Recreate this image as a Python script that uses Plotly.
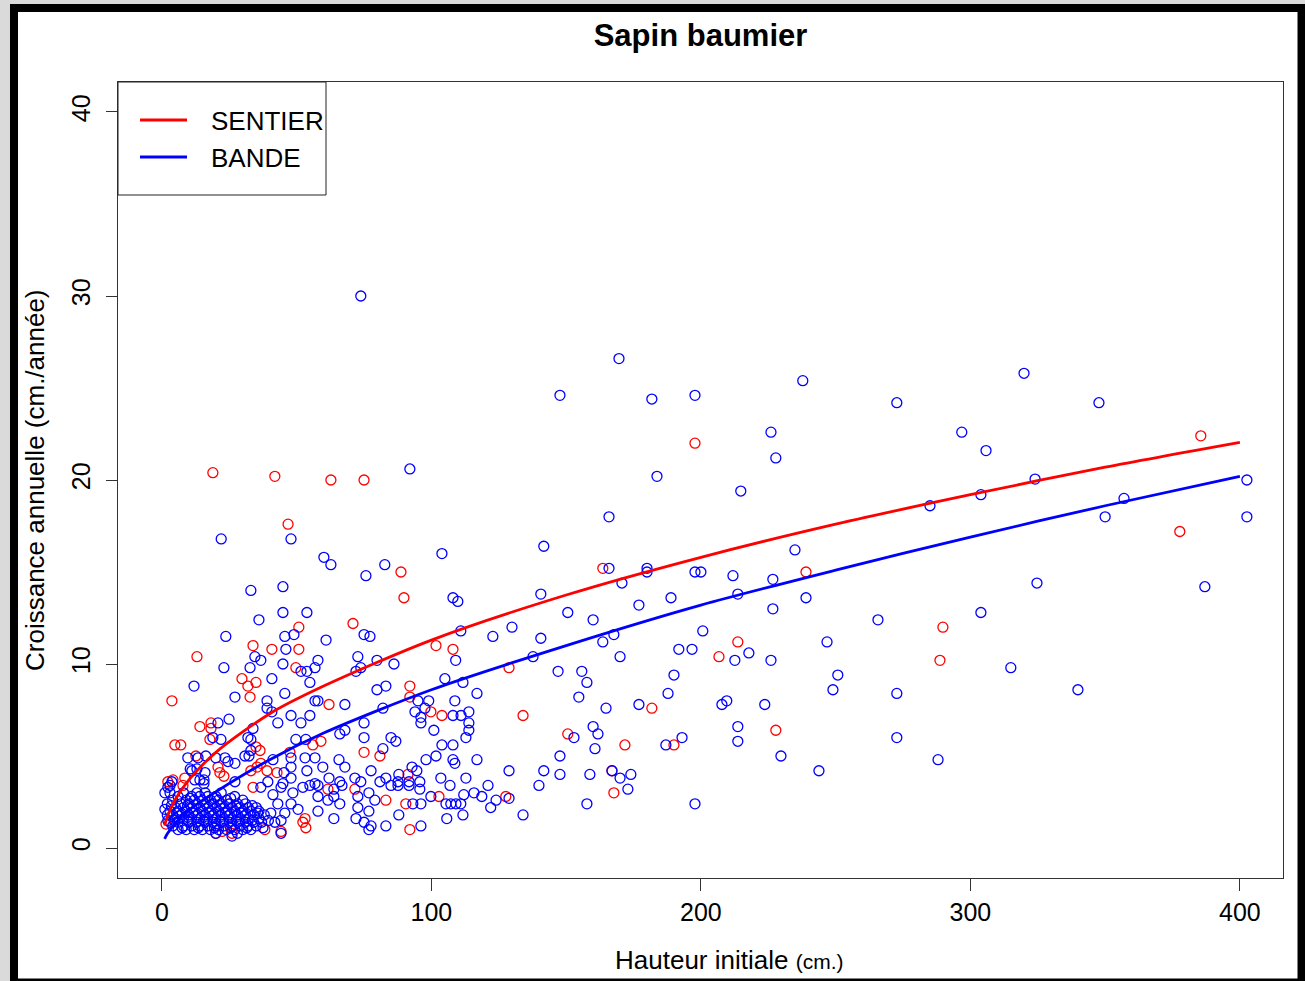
import plotly.graph_objects as go

# ---------------- data ----------------
sentier_pts = [
    (385.5, 22.4), (377.7, 17.2), (289.8, 12.0), (288.7, 10.2),
    (197.8, 22.0), (163.6, 15.2), (239.0, 15.0), (213.7, 11.2), (206.7, 10.4), (134.0, 7.2),
    (181.8, 7.6), (150.6, 6.2), (227.8, 6.4), (171.8, 5.6), (190.0, 5.6), (167.0, 4.2), (167.7, 3.0),
    (18.9, 20.4), (41.9, 20.2), (62.7, 20.0), (75.0, 20.0), (46.8, 17.6), (88.7, 15.0), (89.8, 13.6),
    (50.8, 12.0), (70.9, 12.2),
    (101.7, 11.0), (108.0, 10.8), (128.8, 9.8), (92.0, 8.8), (92.0, 8.2), (62.0, 7.8), (99.8, 7.4),
    (103.9, 7.2), (59.0, 5.8), (75.0, 5.2), (80.9, 5.0), (91.3, 4.0), (61.6, 3.2), (71.6, 3.2),
    (83.1, 2.6), (90.5, 2.4), (102.8, 2.8), (127.6, 2.8), (92.0, 1.0),
    (13.0, 10.4), (33.8, 11.0), (40.8, 10.8), (50.8, 10.8), (49.7, 9.8), (29.7, 9.2), (31.9, 8.8),
    (34.9, 9.0), (32.7, 8.2), (3.7, 8.0), (14.1, 6.6), (18.2, 6.8), (18.2, 6.5), (17.8, 5.9),
    (4.8, 5.6), (7.0, 5.6), (34.9, 5.5), (36.4, 5.3), (56.0, 5.6), (12.6, 5.0), (36.7, 4.6),
    (33.0, 4.2), (42.7, 4.1), (20.8, 4.4), (21.5, 4.1), (4.1, 3.7), (8.5, 3.8), (23.0, 3.9),
    (33.8, 3.3), (53.1, 1.6), (52.3, 1.4), (53.4, 1.1), (44.2, 0.9), (47.5, 5.2),
    (2.2, 3.6), (7.8, 3.4), (25.2, 2.4), (22.3, 0.9), (38.2, 1.0), (35.3, 4.4), (39.0, 4.2),
    (1.5, 1.3), (20.0, 0.8), (26.0, 0.8),
]

bande_pts = [
    (319.9, 25.8), (347.7, 24.2), (296.8, 22.6), (305.8, 21.6), (324.0, 20.05), (285.0, 18.6),
    (303.9, 19.2), (357.0, 19.0), (350.0, 18.0), (402.6, 20.0), (402.6, 18.0), (324.7, 14.4),
    (387.0, 14.2), (303.9, 12.8), (315.0, 9.8), (339.9, 8.6), (288.0, 4.8),
    (147.7, 24.6), (169.6, 26.6), (181.8, 24.4), (197.8, 24.6), (237.8, 25.4), (272.7, 24.2),
    (226.0, 22.6), (227.8, 21.2), (183.7, 20.2), (214.8, 19.4), (165.9, 18.0), (141.7, 16.4),
    (234.9, 16.2), (165.9, 15.2), (180.0, 15.2), (180.0, 15.0), (197.8, 15.0), (200.0, 15.0),
    (211.9, 14.8), (226.7, 14.6), (170.7, 14.4), (140.6, 13.8), (213.7, 13.8), (188.9, 13.6),
    (239.0, 13.6), (150.6, 12.8), (177.0, 13.2), (160.0, 12.4), (226.7, 13.0), (265.7, 12.4),
    (140.6, 11.4), (167.7, 11.6), (163.6, 11.2), (200.7, 11.8), (246.8, 11.2), (137.7, 10.4),
    (170.0, 10.4), (191.8, 10.8), (196.7, 10.8), (212.6, 10.2), (217.8, 10.6), (226.0, 10.2),
    (147.0, 9.6), (155.8, 9.6), (157.7, 9.0), (190.0, 9.4), (250.8, 9.4), (249.0, 8.6),
    (272.7, 8.4), (154.7, 8.2), (187.8, 8.4), (164.8, 7.6), (177.0, 7.8), (207.8, 7.8),
    (209.6, 8.0), (223.7, 7.8), (152.9, 6.0), (160.0, 6.6), (161.8, 6.2), (213.7, 6.6),
    (213.7, 5.8), (272.7, 6.0), (160.7, 5.4), (187.0, 5.6), (193.0, 6.0), (147.7, 5.0),
    (229.7, 5.0), (141.7, 4.2), (147.7, 4.0), (158.8, 4.0), (167.0, 4.2), (170.0, 3.8),
    (174.0, 4.0), (243.8, 4.2), (139.9, 3.4), (172.9, 3.2), (157.7, 2.4), (197.8, 2.4), (134.0, 1.8),
    (73.8, 30.0), (92.0, 20.6), (22.0, 16.8), (47.9, 16.8), (103.9, 16.0), (60.1, 15.8),
    (62.7, 15.4), (82.7, 15.4), (75.7, 14.8), (33.0, 14.0), (44.9, 14.2), (108.0, 13.6),
    (109.8, 13.4), (36.0, 12.4), (44.9, 12.8), (53.8, 12.8), (110.9, 11.8), (122.8, 11.5),
    (129.9, 12.0), (23.7, 11.5), (45.6, 11.5), (49.0, 11.6), (60.9, 11.3), (75.0, 11.6), (77.2, 11.5),
    (72.7, 10.4), (79.8, 10.2), (86.1, 10.0), (109.0, 10.2), (72.0, 9.6), (73.8, 9.8), (57.9, 10.2),
    (79.8, 8.6), (83.1, 8.8), (105.0, 9.2), (111.7, 9.0), (116.9, 8.4), (57.9, 8.0), (67.9, 7.8),
    (82.0, 7.6), (95.0, 8.0), (99.0, 8.0), (93.9, 7.4), (97.6, 7.6), (96.1, 7.1), (96.1, 6.8),
    (108.7, 8.0), (108.0, 7.2), (111.0, 7.2), (113.9, 7.4), (113.9, 6.8), (113.9, 6.4), (112.8, 6.0),
    (75.0, 6.8), (66.0, 6.2), (67.9, 6.4), (75.0, 6.0), (85.0, 6.0), (86.8, 5.8), (82.0, 5.4),
    (100.9, 6.4), (103.9, 5.6), (108.0, 5.6), (98.0, 4.8), (101.7, 5.0), (108.0, 4.8), (108.7, 4.6),
    (116.9, 4.8), (65.7, 4.8), (67.9, 4.4), (59.7, 4.4), (77.6, 4.2), (92.8, 4.4), (94.6, 4.2),
    (87.9, 4.0), (128.8, 4.2), (62.0, 3.8), (66.0, 3.6), (66.8, 3.4), (71.6, 3.8), (73.8, 3.6),
    (80.9, 3.6), (83.1, 3.8), (85.0, 3.4), (87.6, 3.6), (87.6, 3.4), (91.7, 3.6), (91.7, 3.4),
    (95.7, 3.6), (95.7, 3.2), (103.5, 3.8), (106.9, 3.4), (112.8, 3.8), (121.0, 3.4), (63.8, 3.2),
    (57.9, 3.4), (57.9, 2.8), (57.9, 2.0), (63.8, 2.8), (72.7, 2.8), (76.8, 3.0), (79.0, 2.6),
    (66.0, 2.4), (61.6, 2.6), (93.1, 2.4), (96.1, 2.4), (99.8, 2.8), (105.4, 2.4), (107.2, 2.4),
    (109.1, 2.4), (110.9, 2.4), (112.0, 2.9), (115.8, 3.0), (118.7, 2.8), (122.0, 2.2), (124.0, 2.6),
    (128.8, 2.7), (72.7, 2.2), (76.8, 2.0), (87.9, 1.8), (105.7, 1.6), (111.7, 1.8), (63.8, 1.6),
    (72.0, 1.6), (75.0, 1.4), (77.6, 1.2), (76.8, 1.0), (83.1, 1.2), (96.1, 1.2),
    (46.0, 10.8), (34.5, 10.4), (36.7, 10.2), (44.9, 10.0), (23.0, 9.8), (32.7, 9.8), (51.6, 9.6),
    (53.8, 9.6), (56.8, 9.8), (40.8, 9.2), (11.9, 8.8), (54.9, 9.0), (45.6, 8.4), (27.1, 8.2),
    (39.0, 8.0), (39.0, 7.6), (40.8, 7.4), (56.8, 8.0), (47.9, 7.2), (51.6, 6.8), (54.9, 7.2),
    (24.9, 7.0), (43.0, 6.8), (20.8, 6.8), (33.8, 6.5), (31.9, 6.0), (33.0, 5.9), (18.9, 6.0),
    (21.9, 5.9), (49.7, 5.9), (56.8, 4.9), (53.4, 5.9), (9.6, 4.9), (13.4, 4.9), (16.3, 5.0),
    (20.0, 4.9), (23.4, 4.9), (24.5, 4.7), (27.1, 4.6), (30.8, 5.0), (32.3, 5.0), (33.0, 5.3),
    (41.2, 4.8), (47.9, 4.9), (47.9, 4.4), (53.1, 4.9), (45.3, 4.1), (47.9, 3.8), (53.8, 4.2),
    (11.1, 4.2), (15.6, 3.7), (15.6, 3.5), (12.2, 3.7), (14.1, 3.7), (3.0, 3.4), (3.7, 3.6),
    (27.1, 3.6), (36.7, 3.3), (39.3, 3.6), (44.2, 3.3), (44.9, 3.5), (41.2, 2.9), (48.6, 3.0),
    (52.3, 3.3), (54.9, 3.4), (56.8, 3.5), (47.9, 2.4), (43.0, 2.4), (45.6, 1.9), (50.5, 2.1),
    (40.4, 1.9), (44.2, 1.5), (41.9, 1.4), (44.2, 0.8),
    (10.5, 4.3), (13.0, 4.3), (16.0, 4.1), (2.2, 3.3), (1.1, 3.0), (1.1, 2.1), (2.2, 1.5),
    # dense cluster of small trees
    (6, 1.0), (9, 1.0), (12, 1.0), (15, 1.0), (18, 1.0), (21, 1.0), (24, 1.0), (27, 1.0), (30, 1.0), (33, 1.0),
    (4, 1.2), (8, 1.2), (11, 1.2), (14, 1.2), (17, 1.2), (20, 1.2), (23, 1.2), (26, 1.2), (29, 1.2), (32, 1.2), (35, 1.2),
    (3, 1.4), (6, 1.4), (10, 1.4), (13, 1.4), (16, 1.4), (19, 1.4), (22, 1.4), (25, 1.4), (28, 1.4), (31, 1.4), (34, 1.4), (37, 1.4),
    (5, 1.6), (8, 1.6), (11, 1.6), (14, 1.6), (17, 1.6), (20, 1.6), (23, 1.6), (26, 1.6), (29, 1.6), (32, 1.6), (36, 1.6),
    (2, 1.8), (4, 1.8), (7, 1.8), (10, 1.8), (13, 1.8), (16, 1.8), (19, 1.8), (22, 1.8), (25, 1.8), (28, 1.8), (31, 1.8), (34, 1.8), (38, 1.8),
    (3, 2.0), (6, 2.0), (9, 2.0), (12, 2.0), (15, 2.0), (18, 2.0), (21, 2.0), (24, 2.0), (27, 2.0), (30, 2.0), (33, 2.0), (36, 2.0),
    (5, 2.2), (8, 2.2), (11, 2.2), (14, 2.2), (17, 2.2), (20, 2.2), (23, 2.2), (26, 2.2), (29, 2.2), (32, 2.2), (35, 2.2),
    (2, 2.4), (7, 2.4), (10, 2.4), (13, 2.4), (16, 2.4), (19, 2.4), (22, 2.4), (25, 2.4), (28, 2.4), (31, 2.4),
    (4, 2.6), (9, 2.6), (12, 2.6), (15, 2.6), (18, 2.6), (21, 2.6), (24, 2.6), (30, 2.6),
    (6, 2.8), (11, 2.8), (14, 2.8), (17, 2.8), (20, 2.8), (27, 2.8),
    (3, 3.0), (8, 3.0), (13, 3.0), (16, 3.0), (22, 3.0),
    (26, 0.65), (20, 0.8), (28, 0.8),
    (7.5, 1.1), (13.5, 1.1), (19.5, 1.1), (25.5, 1.1), (31.5, 1.1), (37.5, 1.1),
    (4.5, 1.5), (9.5, 1.5), (15.5, 1.5), (21.5, 1.5), (27.5, 1.5), (33.5, 1.5), (39.5, 1.5),
    (5.5, 1.9), (11.5, 1.9), (17.5, 1.9), (23.5, 1.9), (29.5, 1.9), (35.5, 1.9),
    (3.5, 2.3), (9.5, 2.3), (15.5, 2.3), (21.5, 2.3), (27.5, 2.3), (33.5, 2.3),
    (10.5, 2.7), (19.5, 2.7), (25.5, 2.7),
]

sentier_x = [p[0] for p in sentier_pts]
sentier_y = [p[1] for p in sentier_pts]
bande_x = [p[0] for p in bande_pts]
bande_y = [p[1] for p in bande_pts]

# fitted curves, values
curve_x = [1, 2, 5, 10, 20, 40, 60, 100, 150, 200, 250, 300, 350, 400]
sentier_curve = [1.22, 1.70, 2.65, 3.70, 5.2, 7.3, 8.8, 11.3, 13.75, 15.8, 17.6, 19.2, 20.7, 22.05]
bande_curve = [0.50, 0.77, 1.36, 2.05, 3.05, 4.8, 6.25, 8.6, 11.0, 13.2, 15.1, 16.9, 18.6, 20.2]

legend_labels = ["SENTIER", "BANDE"]

RED = "#ff0000"
BLUE = "#0000ff"
FONT = "Liberation Sans, Arial, sans-serif"

W, H = 1305, 981
L, R, T, B = 118, 1283, 82, 878


def pxx(x):
    return (x - L) / (R - L)


def pxy(y):
    return (B - y) / (B - T)


fig = go.Figure()

fig.add_trace(go.Scatter(
    x=sentier_x, y=sentier_y, mode="markers", showlegend=False, hoverinfo="skip",
    marker=dict(symbol="circle-open", size=10, color=RED, line=dict(width=1.3, color=RED)),
))
fig.add_trace(go.Scatter(
    x=bande_x, y=bande_y, mode="markers", showlegend=False, hoverinfo="skip",
    marker=dict(symbol="circle-open", size=10, color=BLUE, line=dict(width=1.3, color=BLUE)),
))
fig.add_trace(go.Scatter(
    x=curve_x, y=sentier_curve, mode="lines", name=legend_labels[0], showlegend=False,
    line=dict(color=RED, width=2.8, shape="spline", smoothing=0.8),
))
fig.add_trace(go.Scatter(
    x=curve_x, y=bande_curve, mode="lines", name=legend_labels[1], showlegend=False,
    line=dict(color=BLUE, width=2.8, shape="spline", smoothing=0.8),
))

shapes = [
    # outer frame of the screenshot
    dict(type="rect", xref="paper", yref="paper", x0=pxx(10), x1=pxx(1310), y0=pxy(990), y1=pxy(4),
         fillcolor="black", line=dict(width=0), layer="below"),
    dict(type="rect", xref="paper", yref="paper", x0=pxx(18), x1=pxx(1297.5), y0=pxy(978.5), y1=pxy(12),
         fillcolor="white", line=dict(width=0), layer="below"),
    # legend box
    dict(type="rect", xref="paper", yref="paper", x0=pxx(118), x1=pxx(326), y0=pxy(195), y1=pxy(82),
         fillcolor="white", line=dict(width=1, color="#222"), layer="above"),
    dict(type="line", xref="paper", yref="paper", x0=pxx(140), x1=pxx(187), y0=pxy(120), y1=pxy(120),
         line=dict(width=3, color=RED), layer="above"),
    dict(type="line", xref="paper", yref="paper", x0=pxx(140), x1=pxx(187), y0=pxy(157), y1=pxy(157),
         line=dict(width=3, color=BLUE), layer="above"),
]

annotations = [
    dict(text="Hauteur initiale <span style='font-size:21px'>(cm.)</span>", xref="paper", yref="paper",
         x=pxx(729), y=pxy(960), xanchor="center", yanchor="middle", showarrow=False,
         font=dict(size=26, color="black", family=FONT)),
    dict(text="Croissance annuelle (cm./année)", xref="paper", yref="paper",
         x=pxx(35), y=0.5, xanchor="center", yanchor="middle", showarrow=False, textangle=-90,
         font=dict(size=26, color="black", family=FONT)),
    dict(text=legend_labels[0], xref="paper", yref="paper", x=pxx(209), y=pxy(121),
         xanchor="left", yanchor="middle", showarrow=False,
         font=dict(size=26, color="black", family=FONT)),
    dict(text=legend_labels[1], xref="paper", yref="paper", x=pxx(209), y=pxy(158),
         xanchor="left", yanchor="middle", showarrow=False,
         font=dict(size=26, color="black", family=FONT)),
]

fig.update_layout(
    width=W, height=H,
    margin=dict(l=L, r=W - R, t=T, b=H - B, pad=0),
    paper_bgcolor="#dadada",
    plot_bgcolor="rgba(0,0,0,0)",
    font=dict(family=FONT, color="black", size=25),
    title=dict(text="<b>Sapin baumier</b>", x=0.5, xref="paper", xanchor="center",
               y=1 - 35 / H, yref="container", yanchor="middle",
               font=dict(size=31, family=FONT, color="black")),
    shapes=shapes,
    annotations=annotations,
    showlegend=False,
    xaxis=dict(range=[-16.3, 416.0], tickmode="array", tickvals=[0, 100, 200, 300, 400],
               ticks="outside", ticklen=12, tickwidth=1, tickcolor="#333",
               showline=True, mirror=True, linecolor="#333", linewidth=1,
               showgrid=False, zeroline=False, tickfont=dict(size=25), ticklabelstandoff=0),
    yaxis=dict(range=[-1.63, 41.63], tickmode="array", tickvals=[0, 10, 20, 30, 40],
               ticks="outside", ticklen=11, tickwidth=1, tickcolor="#333", tickangle=-90,
               showline=True, mirror=True, linecolor="#333", linewidth=1,
               showgrid=False, zeroline=False, tickfont=dict(size=25), ticklabelstandoff=6),
)

fig.write_html("out.html")
